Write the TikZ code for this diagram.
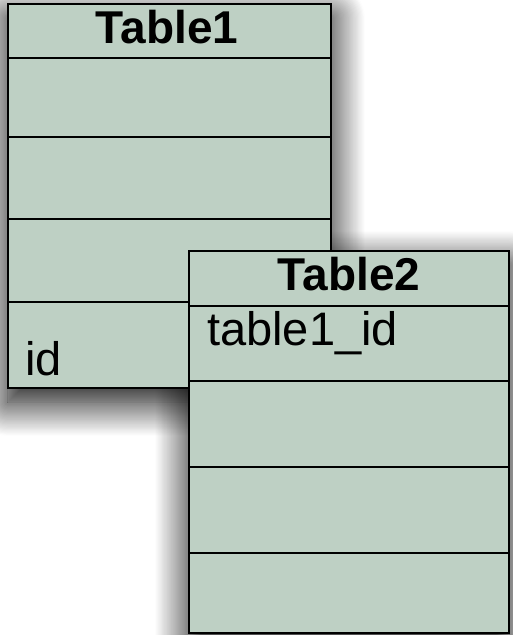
\documentclass[tikz,border=0pt]{standalone}
\usepackage{fontspec}
\setmainfont{Liberation Sans}
\usetikzlibrary{shadows.blur}
\definecolor{tablefill}{RGB}{190,208,196}
\tikzset{
  tableshadow/.style={blur shadow={shadow xshift=0pt, shadow yshift=-14pt,
      shadow blur radius=34pt, shadow blur steps=30, shadow opacity=100}},
  tablebox/.style={draw=black, line width=2.6pt, fill=tablefill},
  rowline/.style={draw=black, line width=2.6pt},
  headtext/.style={font=\fontsize{46}{46}\selectfont\bfseries, anchor=base, inner sep=0pt},
  fieldtext/.style={font=\fontsize{47}{47}\selectfont, anchor=base west, inner sep=0pt}
}
\begin{document}
\begin{tikzpicture}[x=1pt, y=-1pt]
  \useasboundingbox (0,0) rectangle (512,635);

  % Drop shadows under both tables
  \path[tableshadow] (8,4) rectangle (331,388);
  \path[tableshadow] (189,251) rectangle (509,633);

  % Table1
  \path[tablebox] (8,4) rectangle (331,388);
  \foreach \yy in {58,137,219,302}
    \draw[rowline] (8,\yy) -- (331,\yy);
  \node[headtext] (t1head) at (167,43) {Table1};
  \node[fieldtext] (t1id) at (25,375) {id};

  % Table2, overlapping the lower right of Table1
  \path[tablebox] (189,251) rectangle (509,633);
  \foreach \yy in {306,381,467,553}
    \draw[rowline] (189,\yy) -- (509,\yy);
  \node[headtext] (t2head) at (349,290) {Table2};
  \node[fieldtext] (t2fk) at (207,345) {table1\_id};
\end{tikzpicture}
\end{document}
